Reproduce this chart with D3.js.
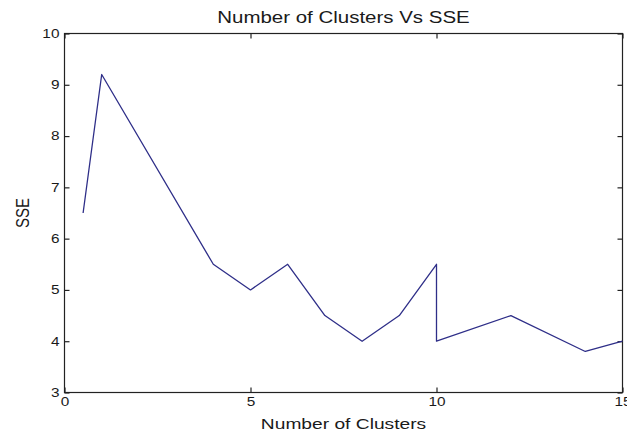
<!DOCTYPE html>
<html><head><meta charset="utf-8">
<script src="https://cdn.jsdelivr.net/npm/d3@7"></script>
<style>
html,body{margin:0;padding:0;background:#fff;}
svg text{font-family:"Liberation Sans",Arial,sans-serif;fill:#1a1a1a;}
</style></head>
<body>
<svg id="c" width="627" height="434"></svg>
<script>
const clusters = [0.5, 1, 4, 5, 6, 7, 8, 9, 10, 10, 12, 14, 15];
const sse      = [6.5, 9.2, 5.5, 5.0, 5.5, 4.5, 4.0, 4.5, 5.5, 4.0, 4.5, 3.8, 4.0];
const xTicks = [0, 5, 10, 15];
const yTicks = [3, 4, 5, 6, 7, 8, 9, 10];
const title = "Number of Clusters Vs SSE";
const xLabel = "Number of Clusters";
const yLabel = "SSE";

const svg = d3.select("#c");
const L = 64.5, R = 622.5, T = 33.5, B = 392.5;
const x = d3.scaleLinear().domain([0, 15]).range([L, R]);
const y = d3.scaleLinear().domain([3, 10]).range([B, T]);
const tl = 5;
const SX = 1.28;

svg.append("rect").attr("x", L).attr("y", T).attr("width", R - L).attr("height", B - T)
  .attr("fill", "none").attr("stroke", "#222").attr("stroke-width", 1.2);

const axStyle = (origin) => g => {
  g.select(".domain").remove();
  g.selectAll("line").attr("stroke", "#222").attr("stroke-width", 1.2);
  g.selectAll("text").attr("font-size", 12).attr("fill", "#1a1a1a")
    .style("font-family", "Liberation Sans, Arial, sans-serif")
    .style("transform-box", "fill-box").style("transform-origin", origin)
    .style("transform", `scaleX(${SX})`);
};

svg.append("g").attr("transform", `translate(0,${B})`)
  .call(d3.axisBottom(x).tickValues(xTicks).tickSize(-tl).tickPadding(5).tickFormat(d3.format("d")))
  .call(axStyle("center"));
svg.append("g").attr("transform", `translate(0,${T})`)
  .call(d3.axisTop(x).tickValues(xTicks).tickSize(-tl).tickFormat(""))
  .call(axStyle("center"));
svg.append("g").attr("transform", `translate(${L},0)`)
  .call(d3.axisLeft(y).tickValues(yTicks).tickSize(-tl).tickPadding(5).tickFormat(d3.format("d")))
  .call(axStyle("right center"));
svg.append("g").attr("transform", `translate(${R},0)`)
  .call(d3.axisRight(y).tickValues(yTicks).tickSize(-tl).tickFormat(""))
  .call(axStyle("center"));

const data = clusters.map((c, i) => [c, sse[i]]);
svg.append("path").datum(data)
  .attr("fill", "none").attr("stroke", "#2e2e88").attr("stroke-width", 1.3)
  .attr("stroke-linejoin", "round")
  .attr("d", d3.line().x(d => x(d[0])).y(d => y(d[1])));

const cx = (L + R) / 2;
svg.append("text").attr("transform", `translate(${cx},23) scale(${SX},1)`).attr("text-anchor", "middle")
  .attr("font-size", 16).text(title);
svg.append("text").attr("transform", `translate(${cx},429) scale(${SX},1)`).attr("text-anchor", "middle")
  .attr("font-size", 15).text(xLabel);
svg.append("text").attr("transform", `translate(29,${(T + B) / 2}) scale(${SX},1) rotate(-90)`)
  .attr("text-anchor", "middle").attr("font-size", 15).text(yLabel);
</script>
</body></html>
